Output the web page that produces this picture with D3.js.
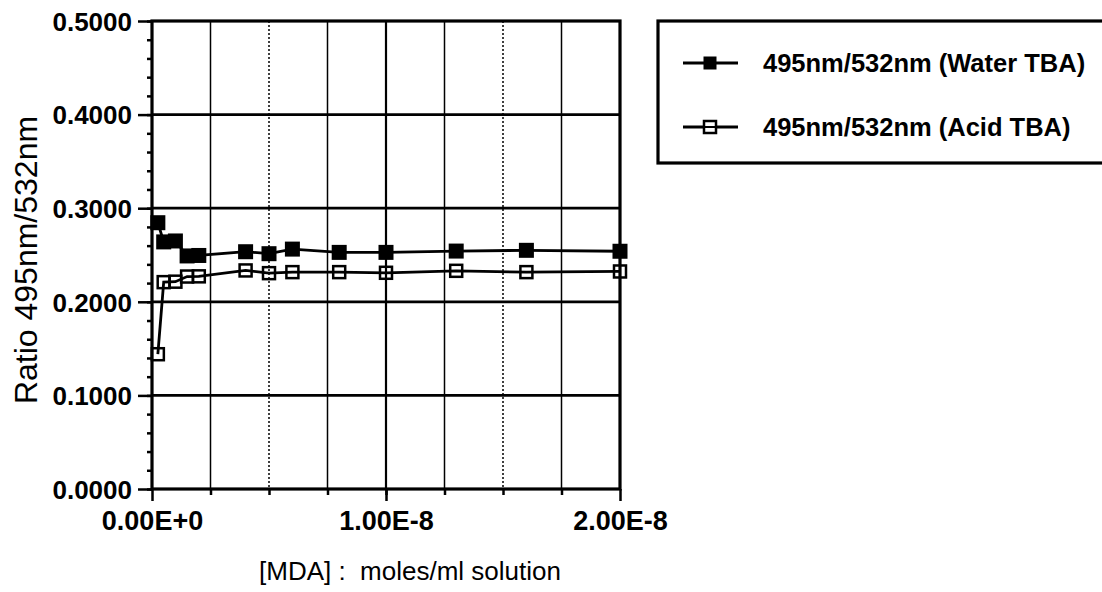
<!DOCTYPE html>
<html>
<head>
<meta charset="utf-8">
<script src="https://cdn.jsdelivr.net/npm/d3@7"></script>
<style>
	body { margin: 0; background: #fff; }
	svg { display: block; font-family: "Liberation Sans", Arial, Helvetica, sans-serif; }
</style>
</head>
<body>
<div class="chart"></div>
<script>
// x values in moles/ml
var concentrations = [0.25e-9, 0.5e-9, 1.0e-9, 1.5e-9, 2.0e-9, 4e-9, 5e-9, 6e-9, 8e-9, 10e-9, 13e-9, 16e-9, 20e-9];
var waterTBA = [0.2845, 0.2640, 0.2650, 0.2490, 0.2495, 0.2535, 0.2514, 0.2563, 0.2528, 0.2528, 0.2542, 0.2550, 0.2540];
var acidTBA = [0.1440, 0.2210, 0.2215, 0.2270, 0.2272, 0.2335, 0.2306, 0.2317, 0.2317, 0.2310, 0.2331, 0.2317, 0.2324];

var seriesNames = ['495nm/532nm (Water TBA)', '495nm/532nm (Acid TBA)'];
var xTickValues = [0, 1e-8, 2e-8];
var xTickLabels = ['0.00E+0', '1.00E-8', '2.00E-8'];
var xGridValues = [2.5e-9, 5e-9, 7.5e-9, 1e-8, 1.25e-8, 1.5e-8, 1.75e-8];
var xDotted = [5e-9, 1.5e-8];
var yTickValues = [0, 0.1, 0.2, 0.3, 0.4, 0.5];
var yTickLabels = ['0.0000', '0.1000', '0.2000', '0.3000', '0.4000', '0.5000'];

var chart = {

	init: function() {
		var w = 1102;
		var h = 592;
		var pLeft = 152, pRight = 620, pTop = 21, pBottom = 489;

		var svg = d3.select('.chart')
			.append('svg')
			.attr('width', w)
			.attr('height', h);

		var x = d3.scaleLinear().domain([0, 2e-8]).range([pLeft, pRight]);
		var y = d3.scaleLinear().domain([0, 0.5]).range([pBottom, pTop]);

		// vertical grid
		svg.selectAll('.vgrid')
			.data(xGridValues)
			.enter()
			.append('line')
			.attr('class', 'vgrid')
			.attr('x1', function(d){ return x(d); })
			.attr('x2', function(d){ return x(d); })
			.attr('y1', pTop)
			.attr('y2', pBottom)
			.attr('stroke', '#000')
			.attr('stroke-width', function(d){ return d === 1e-8 ? 2.2 : 1.5; })
			.attr('stroke-dasharray', function(d){ return xDotted.indexOf(d) >= 0 ? '2,2' : null; });

		// horizontal grid
		svg.selectAll('.hgrid')
			.data(yTickValues.slice(1, 5))
			.enter()
			.append('line')
			.attr('class', 'hgrid')
			.attr('x1', pLeft)
			.attr('x2', pRight)
			.attr('y1', function(d){ return y(d); })
			.attr('y2', function(d){ return y(d); })
			.attr('stroke', '#000')
			.attr('stroke-width', 2.8);

		// frame
		svg.append('rect')
			.attr('x', pLeft)
			.attr('y', pTop)
			.attr('width', pRight - pLeft)
			.attr('height', pBottom - pTop)
			.attr('fill', 'none')
			.attr('stroke', '#000')
			.attr('stroke-width', 3.2);

		// y axis
		var yAxis = d3.axisLeft(y)
			.tickValues(yTickValues)
			.tickFormat(function(d, i){ return yTickLabels[i]; })
			.tickSize(14)
			.tickPadding(6);
		var yMinor = d3.axisLeft(y)
			.tickValues(d3.range(0, 0.5001, 0.02))
			.tickFormat('')
			.tickSize(5);

		svg.append('g').attr('transform', 'translate(' + pLeft + ',0)').call(yMinor);
		var gy = svg.append('g').attr('transform', 'translate(' + pLeft + ',0)').call(yAxis);

		// x axis
		var xAxis = d3.axisBottom(x)
			.tickValues(xTickValues)
			.tickFormat(function(d, i){ return xTickLabels[i]; })
			.tickSize(12)
			.tickPadding(10);
		var xMinor = d3.axisBottom(x)
			.tickValues(xGridValues)
			.tickFormat('')
			.tickSize(6);

		svg.append('g').attr('transform', 'translate(0,' + pBottom + ')').call(xMinor);
		var gx = svg.append('g').attr('transform', 'translate(0,' + pBottom + ')').call(xAxis);

		svg.selectAll('.domain').remove();
		svg.selectAll('.tick line').attr('stroke', '#000').attr('stroke-width', 2.5);
		svg.selectAll('.tick text')
			.attr('fill', '#000')
			.attr('font-size', '26px')
			.attr('font-weight', 'bold')
			.attr('font-family', '"Liberation Sans", Arial, sans-serif');
		gy.selectAll('.tick text').attr('dy', '0.36em');
		gx.selectAll('.tick text').attr('font-size', '27px');

		// axis titles
		svg.append('text')
			.attr('x', 410)
			.attr('y', 580)
			.attr('text-anchor', 'middle')
			.attr('font-size', '26px')
			.style('white-space', 'pre')
			.text('[MDA] :  moles/ml solution');

		svg.append('text')
			.attr('transform', 'translate(37,' + ((pTop + pBottom) / 2 + 5) + ') rotate(-90)')
			.attr('text-anchor', 'middle')
			.attr('font-size', '32px')
			.text('Ratio 495nm/532nm');

		// series
		var line = d3.line()
			.x(function(d){ return x(d[0]); })
			.y(function(d){ return y(d[1]); });

		var waterPts = concentrations.map(function(c, i){ return [c, waterTBA[i]]; });
		var acidPts = concentrations.map(function(c, i){ return [c, acidTBA[i]]; });

		[waterPts, acidPts].forEach(function(pts){
			svg.append('path')
				.datum(pts)
				.attr('d', line)
				.attr('fill', 'none')
				.attr('stroke', '#000')
				.attr('stroke-width', 2.8);
		});

		var ms = 15;
		svg.selectAll('.water')
			.data(waterPts)
			.enter()
			.append('rect')
			.attr('class', 'water')
			.attr('x', function(d){ return x(d[0]) - ms / 2; })
			.attr('y', function(d){ return y(d[1]) - ms / 2; })
			.attr('width', ms)
			.attr('height', ms)
			.attr('fill', '#000');

		var os = 12;
		svg.selectAll('.acid')
			.data(acidPts)
			.enter()
			.append('rect')
			.attr('class', 'acid')
			.attr('x', function(d){ return x(d[0]) - os / 2; })
			.attr('y', function(d){ return y(d[1]) - os / 2; })
			.attr('width', os)
			.attr('height', os)
			.attr('fill', 'none')
			.attr('stroke', '#000')
			.attr('stroke-width', 2.5);

		// legend
		var lg = svg.append('g');
		lg.append('rect')
			.attr('x', 658)
			.attr('y', 21)
			.attr('width', 470)
			.attr('height', 142)
			.attr('fill', 'none')
			.attr('stroke', '#000')
			.attr('stroke-width', 3.2);

		var rows = [63, 127];
		seriesNames.forEach(function(name, i){
			var ry = rows[i];
			lg.append('line')
				.attr('x1', 683).attr('x2', 738)
				.attr('y1', ry).attr('y2', ry)
				.attr('stroke', '#000')
				.attr('stroke-width', 2.8);
			if (i === 0) {
				lg.append('rect')
					.attr('x', 710 - 6.5).attr('y', ry - 6.5)
					.attr('width', 13).attr('height', 13)
					.attr('fill', '#000');
			} else {
				lg.append('rect')
					.attr('x', 710 - 6).attr('y', ry - 6)
					.attr('width', 12).attr('height', 12)
					.attr('fill', '#fff')
					.attr('stroke', '#000')
					.attr('stroke-width', 2.5);
				lg.append('line')
					.attr('x1', 704).attr('x2', 716)
					.attr('y1', ry).attr('y2', ry)
					.attr('stroke', '#000')
					.attr('stroke-width', 2);
			}
			lg.append('text')
				.attr('x', 763)
				.attr('y', ry)
				.attr('dy', '0.36em')
				.attr('font-size', '25.5px')
				.attr('font-weight', 'bold')
				.text(name);
		});
	}
};

chart.init();
</script>
</body>
</html>
